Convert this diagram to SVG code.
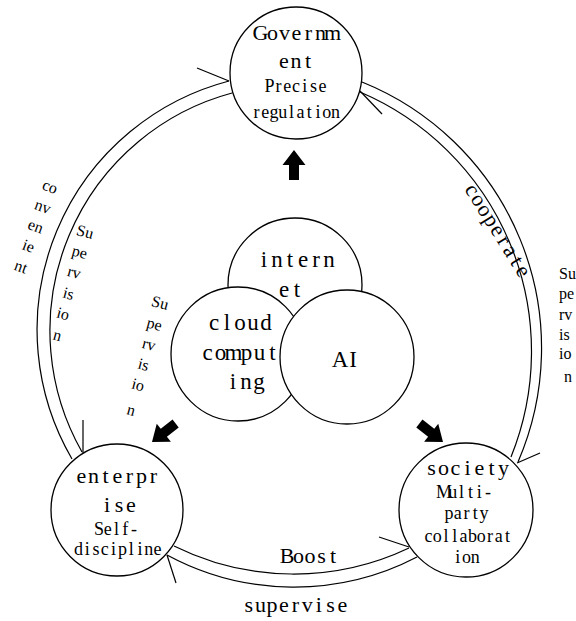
<svg xmlns="http://www.w3.org/2000/svg" width="576" height="621" viewBox="0 0 576 621">
<style>
.node{fill:#fff;stroke:#000;stroke-width:1.3}
.ln{fill:none;stroke:#000;stroke-width:1.2}
.big{font-family:"Liberation Serif","Noto Sans CJK SC",serif;font-size:22px;fill:#000;text-anchor:middle}
.ctr{font-family:"Liberation Serif","Noto Sans CJK SC",serif;font-size:23px;fill:#000;text-anchor:middle}
.sm{font-family:"Liberation Serif","Noto Sans CJK SC",serif;font-size:18px;fill:#000;text-anchor:middle}
.rot{font-family:"Liberation Serif",serif;font-size:16px;fill:#000;text-anchor:middle}
.rs{font-family:"Liberation Serif",serif;font-size:16px;fill:#000}
.arr{fill:#000}
</style>
<rect width="576" height="621" fill="#fff"/>
<g id="connectors">
  <path class="ln" d="M229,81 A257,257 0 0,0 72,459"/>
  <path class="ln" d="M232,93 A246,246 0 0,0 82,452"/>
  <path class="ln" d="M362,82 A287,287 0 0,1 518,462"/>
  <path class="ln" d="M360,92 A282,282 0 0,1 511,457"/>
  <path class="ln" d="M174,546 A269,269 0 0,0 409,548"/>
  <path class="ln" d="M167,555 A267,267 0 0,0 417,557"/>
  <line class="ln" x1="197" y1="68" x2="229" y2="81"/>
  <line class="ln" x1="382" y1="114" x2="360" y2="91"/>
  <line class="ln" x1="540" y1="453" x2="517" y2="463"/>
  <line class="ln" x1="379" y1="537" x2="409" y2="547"/>
  <line class="ln" x1="176" y1="583" x2="167" y2="555"/>
  <line class="ln" x1="83" y1="420" x2="83" y2="453"/>
  <polygon class="arr" points="0,0 11.5,15 5,15 5,30 -5,30 -5,15 -11.5,15" transform="translate(294,150)"/>
  <polygon class="arr" points="0,0 11.5,15 5,15 5,30 -5,30 -5,15 -11.5,15" transform="translate(152,442) rotate(-128)"/>
  <polygon class="arr" points="0,0 11.5,15 5,15 5,30 -5,30 -5,15 -11.5,15" transform="translate(443,442) rotate(128)"/>
</g>
<g id="government">
  <circle class="node" cx="296" cy="73" r="66"/>
  <text class="big" x="260.5 272.5 284.5 296.5 308.5 320.5 332.5" y="40">Governm</text>
  <text class="big" x="284 296 308" y="68">ent</text>
  <text class="sm" x="269.6 278.4 287.2 296 304.8 313.6 322.4" y="92">Precise</text>
  <text class="sm" x="256.4 265.2 274 282.8 291.6 300.4 309.2 318 326.8 335.6" y="118">regulation</text>
</g>
<g id="internet">
  <circle class="node" cx="295" cy="285" r="67"/>
  <text class="ctr" x="264 277 290 303 316 329" y="267">intern</text>
</g>
<g id="cloud">
  <circle class="node" cx="238" cy="354" r="67"/>
  <text class="ctr" x="214 227 240 253 266" y="330">cloud</text>
  <text class="ctr" x="207.5 220.5 233.5 246.5 259.5 272.5" y="360">comput</text>
  <text class="ctr" x="233 246 259" y="389">ing</text>
</g>
<g id="ai">
  <circle class="node" cx="347" cy="357" r="67"/>
  <text class="ctr" x="340 353" y="367">AI</text>
</g>
<g id="internet-label">
  <text class="ctr" x="284 297" y="297">et</text>
</g>
<g id="enterprise">
  <circle class="node" cx="117" cy="510" r="66"/>
  <text class="big" x="81.5 93.5 105.5 117.5 129.5 141.5 153.5" y="483">enterpr</text>
  <text class="big" x="107 119 131" y="512">ise</text>
  <text class="sm" x="98.9 107.7 116.5 125.3 134.1" y="535">Self-</text>
  <text class="sm" x="78.4 87.2 96 104.8 113.6 122.4 131.2 140 148.8 157.6" y="555">discipline</text>
</g>
<g id="society">
  <circle class="node" cx="466" cy="510" r="67"/>
  <text class="big" x="431.5 443.5 455.5 467.5 479.5 491.5 503.5" y="475">society</text>
  <text class="sm" x="444 452.8 461.6 470.4 479.2 488" y="498">Multi-</text>
  <text class="sm" x="448.9 457.7 466.5 475.3 484.1" y="519">party</text>
  <text class="sm" x="428.4 437.2 446 454.8 463.6 472.4 481.2 490 498.8 507.6" y="542">collaborat</text>
  <text class="sm" x="457.7 466.5 475.3" y="563">ion</text>
</g>
<g id="labels">
  <text class="big" x="287 298.5 310 321.5 333" y="563">Boost</text>
  <text class="big" x="248.7 260.4 272.1 283.8 295.5 307.2 318.9 330.6 342.3" y="612">supervise</text>
  <text class="big" transform="translate(492,234) rotate(58)" x="-48 -36 -24 -12 0 12 24 36 48" y="0">cooperate</text>
  <g transform="translate(50,187) rotate(20)">
    <text class="rot" x="0" y="5">co</text>
    <text class="rot" x="0" y="26">nv</text>
    <text class="rot" x="0" y="47">en</text>
    <text class="rot" x="0" y="68">ie</text>
    <text class="rot" x="0" y="90">nt</text>
  </g>
  <g transform="translate(85,232) rotate(15)">
    <text class="rot" x="0" y="5">Su</text>
    <text class="rot" x="0" y="26">pe</text>
    <text class="rot" x="0" y="47">rv</text>
    <text class="rot" x="0" y="69">is</text>
    <text class="rot" x="0" y="90">io</text>
    <text class="rot" x="0" y="112">n</text>
  </g>
  <g transform="translate(160,303) rotate(15)">
    <text class="rot" x="0" y="5">Su</text>
    <text class="rot" x="0" y="27">pe</text>
    <text class="rot" x="0" y="48">rv</text>
    <text class="rot" x="0" y="69">is</text>
    <text class="rot" x="0" y="90">io</text>
    <text class="rot" x="0" y="116">n</text>
  </g>
  <text class="rs" x="559" y="279">Su</text>
  <text class="rs" x="559" y="299">pe</text>
  <text class="rs" x="559" y="320">rv</text>
  <text class="rs" x="559" y="340">is</text>
  <text class="rs" x="559" y="359">io</text>
  <text class="rs" x="564" y="382">n</text>
</g>
</svg>
